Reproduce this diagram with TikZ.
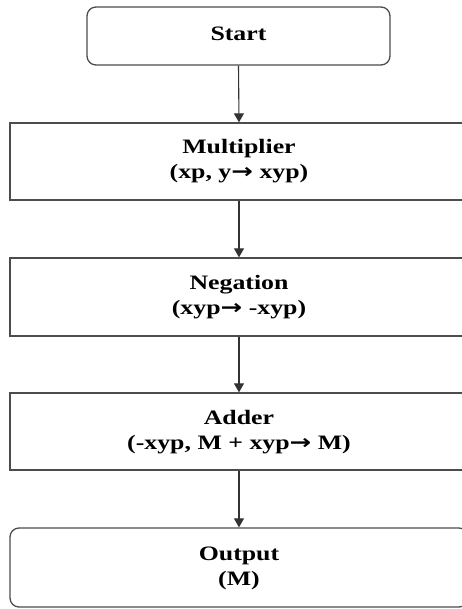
\documentclass[tikz,border=0pt]{standalone}
\usepackage{fontspec}
\setmainfont{Liberation Serif}
\newfontfamily\arrowfont{DejaVu Sans}
\usetikzlibrary{arrows.meta}
\newcommand{\wtext}[1]{\scalebox{1.26}[1]{\begin{tabular}{@{}c@{}}#1\end{tabular}}}
\newcommand{\wtwo}[1]{\raisebox{-4.5pt}{\wtext{#1}}}
\newcommand{\rarr}{{\arrowfont\bfseries →}}
\tikzset{
  boxstyle/.style={draw=black!70, line width=1.3pt, minimum width=458pt, inner sep=0pt,
    font=\fontsize{20.5}{25}\selectfont\bfseries},
  roundbox/.style={boxstyle, rounded corners=9pt},
  flowarrow/.style={draw=black!80, line width=1.1pt, -{Triangle[width=10pt,length=9pt]}}
}
\begin{document}
\begin{tikzpicture}[x=1pt,y=-1pt]
\useasboundingbox (0,0) rectangle (462,609);
\clip (0,0) rectangle (462,609);
\fill[white] (0,0) rectangle (462,609);
\node[roundbox, minimum width=303pt, minimum height=58pt] (start) at (238.5,36) {\wtext{Start}};
\node[boxstyle, minimum height=77pt] (mult) at (239,161.5) {\wtwo{Multiplier\\(xp, y\rarr{} xyp)}};
\node[boxstyle, minimum height=78pt] (neg) at (239,297) {\wtwo{Negation\\(xyp\rarr{} -xyp)}};
\node[boxstyle, minimum height=77pt] (add) at (239,431.5) {\wtwo{Adder\\(-xyp, M + xyp\rarr{} M)}};
\node[roundbox, minimum height=79pt] (out) at (239,567.5) {\wtwo{Output\\(M)}};
\draw[flowarrow] (start.south) -- (mult.north);
\draw[flowarrow] (mult.south) -- (neg.north);
\draw[flowarrow] (neg.south) -- (add.north);
\draw[flowarrow] (add.south) -- (out.north);
\end{tikzpicture}
\end{document}
